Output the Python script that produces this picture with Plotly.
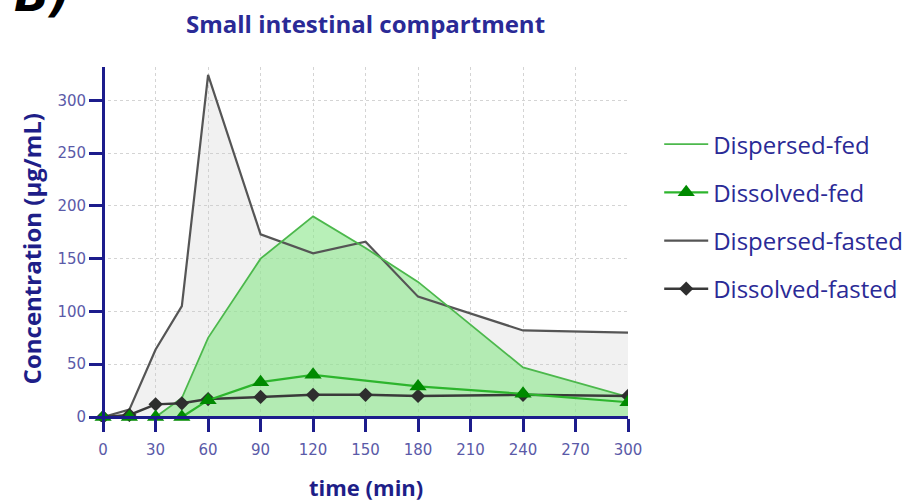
import plotly.graph_objects as go

# ---- data ----
time_min = [0, 15, 30, 45, 60, 90, 120, 150, 180, 240, 300]
dispersed_fed = [0, 0, 0, 18, 75, 150, 190, 160, 128, 47, 19]
dispersed_fasted = [0, 7, 64, 105, 324, 173, 155, 166, 114, 82, 80]
dissolved_fasted = [0, 2, 12, 13, 17, 19, 21, 21, 20, 21, 20]
time_dissolved_fed = [0, 15, 30, 45, 60, 90, 120, 180, 240, 300]
dissolved_fed = [0, 0, 0, 0, 16, 33, 40, 29, 22, 14]

x_ticks = [0, 30, 60, 90, 120, 150, 180, 210, 240, 270, 300]
y_ticks = [0, 50, 100, 150, 200, 250, 300]

title_text = "Small intestinal compartment"
x_title = "time (min)"
y_title = "Concentration (µg/mL)"
panel_label = "B)"

AXIS = "#1c1c8c"
TICKTXT = "#5a5aa8"
TXT = "#2a2a96"

X_RANGE = [-7.5, 300]
Y_RANGE = [-4.7, 331.5]

fig = go.Figure()

# fills (behind all lines)
fig.add_trace(go.Scatter(x=time_min, y=dispersed_fasted, mode="lines", fill="tozeroy",
                         fillcolor="rgba(200,200,200,0.25)", line=dict(width=0),
                         showlegend=False, hoverinfo="skip"))
fig.add_trace(go.Scatter(x=time_min, y=dispersed_fed, mode="lines", fill="tozeroy",
                         fillcolor="rgba(140,230,140,0.62)", line=dict(width=0),
                         showlegend=False, hoverinfo="skip"))

# lines
fig.add_trace(go.Scatter(x=time_min, y=dispersed_fasted, mode="lines", name="Dispersed-fasted",
                         line=dict(color="#555555", width=2.2), legendrank=3,
                         legendgroup="c"))
fig.add_trace(go.Scatter(x=time_min, y=dispersed_fed, mode="lines", name="Dispersed-fed",
                         line=dict(color="#4cb84c", width=1.8), legendrank=1,
                         legendgroup="a"))
fig.add_trace(go.Scatter(x=time_min, y=dissolved_fasted, mode="lines+markers", name="Dissolved-fasted",
                         line=dict(color="#3a3a3a", width=2.5),
                         marker=dict(symbol="diamond", size=11, color="#2e2e2e"),
                         legendrank=4, legendgroup="d"))
fig.add_trace(go.Scatter(x=time_dissolved_fed, y=dissolved_fed, mode="lines+markers", name="Dissolved-fed",
                         line=dict(color="#2db52d", width=2.2),
                         marker=dict(symbol="triangle-up", size=15, color="#008a00"),
                         legendrank=2, legendgroup="b"))

fig.update_layout(
    width=920, height=503,
    margin=dict(l=90, r=292, t=67, b=81),
    paper_bgcolor="white", plot_bgcolor="white",
    font=dict(family="Open Sans", color=TXT),
    showlegend=True,
    legend=dict(x=1.058, xanchor="left", y=0.845, yanchor="top",
                font=dict(family="Open Sans", size=24, color=TXT),
                itemwidth=44, tracegroupgap=14, traceorder="grouped",
                bgcolor="rgba(0,0,0,0)"),
    xaxis=dict(range=X_RANGE, tickvals=x_ticks, ticktext=[str(v) for v in x_ticks],
               showline=True, linecolor=AXIS, linewidth=3,
               ticks="outside", ticklen=13, tickwidth=3, tickcolor=AXIS,
               tickfont=dict(family="DejaVu Sans", size=15, color=TICKTXT),
               ticklabelstandoff=5,
               showgrid=True, gridcolor="#d4d4d4", griddash="dot", gridwidth=1,
               zeroline=False, anchor="free",
               position=(0 - Y_RANGE[0]) / (Y_RANGE[1] - Y_RANGE[0])),
    yaxis=dict(range=Y_RANGE, tickvals=y_ticks,
               showline=True, linecolor=AXIS, linewidth=3,
               ticks="outside", ticklen=13, tickwidth=3, tickcolor=AXIS,
               tickfont=dict(family="DejaVu Sans", size=15, color=TICKTXT),
               showgrid=True, gridcolor="#d4d4d4", griddash="dot", gridwidth=1,
               zeroline=False, anchor="free",
               position=(0 - X_RANGE[0]) / (X_RANGE[1] - X_RANGE[0])),
    annotations=[
        dict(text="<b>" + title_text + "</b>", xref="paper", yref="paper",
             x=0.513, y=1.123, xanchor="center", yanchor="middle", showarrow=False,
             font=dict(family="Open Sans", size=24, color=TXT)),
        dict(text="<b>" + x_title + "</b>", xref="paper", yref="paper",
             x=0.513, y=-0.183, xanchor="center", yanchor="middle", showarrow=False,
             font=dict(family="Open Sans", size=22, color="#1e1e88")),
        dict(text="<b>" + y_title + "</b>", xref="paper", yref="paper",
             x=-0.1095, y=0.4865, xanchor="center", yanchor="middle", showarrow=False,
             textangle=-90, font=dict(family="Open Sans", size=24, color="#1e1e88")),
        dict(text="<b><i>" + panel_label + "</i></b>", xref="paper", yref="paper",
             x=-0.145, y=1.12, xanchor="left", yanchor="bottom", showarrow=False,
             font=dict(family="DejaVu Sans", size=46, color="black")),
    ],
)

fig.write_html("out.html")
